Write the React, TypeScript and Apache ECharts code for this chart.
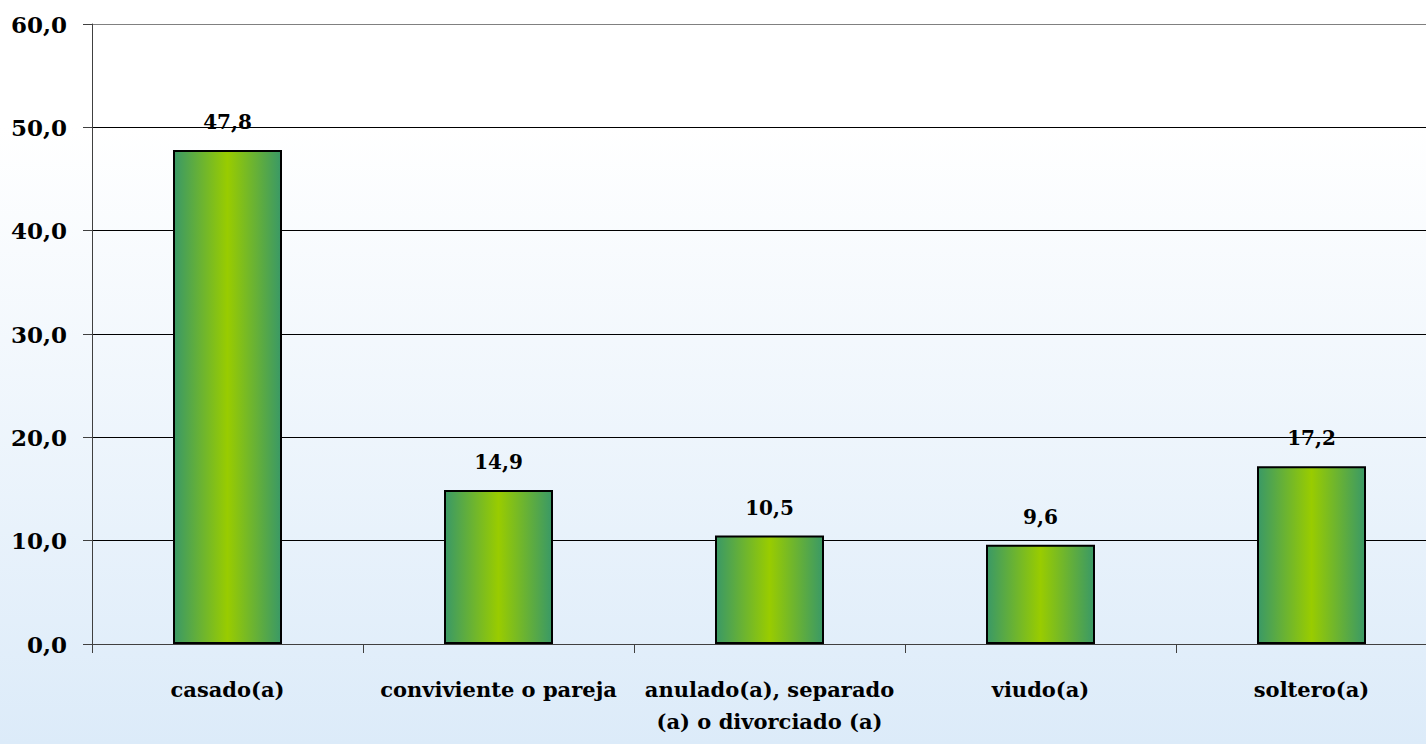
import React, { useEffect, useRef } from "react";
import * as echarts from "echarts";

const categories = [
  "casado(a)",
  "conviviente o pareja",
  "anulado(a), separado\n(a) o divorciado (a)",
  "viudo(a)",
  "soltero(a)",
];
const values = [47.8, 14.9, 10.5, 9.6, 17.2];
const yMin = 0;
const yMax = 60;
const yStep = 10;

const FONT = "DejaVu Serif";
const fmt = (v: number) => v.toFixed(1).replace(".", ",");

export default function App() {
  const ref = useRef<HTMLDivElement>(null);
  useEffect(() => {
    document.body.style.margin = "0";
    document.body.style.overflow = "hidden";
    const chart = echarts.init(ref.current!, undefined, { renderer: "svg" });
    const barGrad = new echarts.graphic.LinearGradient(0, 0, 1, 0, [
      { offset: 0, color: "#3a9966" },
      { offset: 0.5, color: "#99cc00" },
      { offset: 1, color: "#3a9966" },
    ]);
    chart.setOption({
      animation: false,
      backgroundColor: {
        type: "linear",
        x: 0,
        y: 0,
        x2: 0,
        y2: 1,
        colorStops: [
          { offset: 0, color: "#ffffff" },
          { offset: 0.17, color: "#ffffff" },
          { offset: 1, color: "#dcebf9" },
        ],
      },
      grid: { left: 92, top: 24, right: 0, bottom: 100, containLabel: false },
      xAxis: {
        type: "category",
        data: categories,
        axisLine: { lineStyle: { color: "#404040", width: 1 } },
        axisTick: { show: true, length: 9, lineStyle: { color: "#404040" } },
        axisLabel: {
          interval: 0,
          margin: 29,
          fontFamily: FONT,
          fontWeight: "bold",
          fontSize: 21,
          color: "#000",
          lineHeight: 32,
        },
      },
      yAxis: {
        type: "value",
        min: yMin,
        max: yMax,
        interval: yStep,
        axisLine: { show: true, lineStyle: { color: "#404040", width: 1 } },
        axisTick: { show: true, length: 9, lineStyle: { color: "#404040" } },
        axisLabel: {
          margin: 25,
          fontFamily: FONT,
          fontWeight: "bold",
          fontSize: 23,
          color: "#000",
          formatter: (v: number) => fmt(v),
        },
        splitLine: {
          show: true,
          lineStyle: {
            color: ["#000", "#000", "#000", "#000", "#000", "#000", "#808080"],
            width: 1,
          },
        },
      },
      series: [
        {
          type: "bar",
          data: values,
          barWidth: 109,
          itemStyle: { color: barGrad, borderColor: "#000", borderWidth: 2 },
          label: {
            show: true,
            position: "top",
            distance: 18,
            fontFamily: FONT,
            fontWeight: "bold",
            fontSize: 20,
            color: "#000",
            formatter: (p: any) => fmt(p.value),
          },
        },
      ],
    });
    return () => chart.dispose();
  }, []);
  return (
    <div
      style={{
        position: "fixed",
        left: 0,
        top: 0,
        width: 1426,
        height: 744,
        overflow: "hidden",
      }}
    >
      <div ref={ref} style={{ width: 1447, height: 744 }} />
    </div>
  );
}
